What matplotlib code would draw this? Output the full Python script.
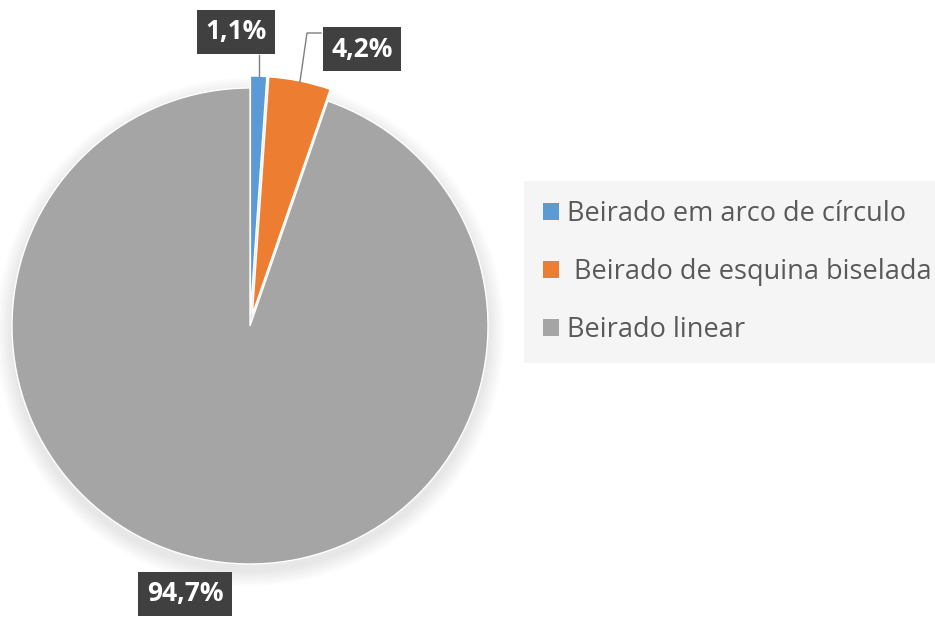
import numpy as np
import matplotlib
matplotlib.use('Agg')
import matplotlib.pyplot as plt
from matplotlib.patches import Patch, Circle

plt.rcParams['font.family'] = ['Open Sans', 'DejaVu Sans']

categories = ['Beirado em arco de círculo', ' Beirado de esquina biselada', 'Beirado linear']
values = [1.1, 4.2, 94.7]
value_labels = ['1,1%', '4,2%', '94,7%']
colors = ['#5B9BD5', '#ED7D31', '#A5A5A5']

W, H = 935, 618
fig = plt.figure(figsize=(W / 100, H / 100), dpi=100)
ax = fig.add_axes([0, 0, 1, 1])
ax.axis('off')

cx, cy, r = 250, H - 326, 238

# soft shadow under the pie
for k in range(8):
    ax.add_patch(Circle((cx, cy - 6), r + 2 + k * 2, fc='black', ec='none',
                        alpha=0.012, zorder=0))

wedges, _ = ax.pie(values, colors=colors, startangle=90, counterclock=False,
                   explode=[12, 12, 0], center=(cx, cy), radius=r,
                   wedgeprops=dict(edgecolor='white', linewidth=1))
ax.set_xlim(0, W)
ax.set_ylim(0, H)
ax.set_aspect('equal')

box = dict(boxstyle='square,pad=0.32', fc='#404040', ec='none')
label_pos = [(236, 32), (362, 49), (185, 594)]
for i, w in enumerate(wedges):
    ang = np.deg2rad((w.theta1 + w.theta2) / 2)
    ox, oy = w.center
    tx, ty = label_pos[i]
    ax.text(tx, H - ty, value_labels[i], color='white', fontsize=19, fontweight='bold',
            ha='center', va='center', bbox=box, zorder=5)
    if i == 0:
        ex, ey = ox + r * np.cos(ang), oy + r * np.sin(ang)
        ax.plot([ex, ex], [ey, H - 55], color='#7f7f7f', lw=1, zorder=4)
    elif i == 1:
        ex, ey = ox + r * np.cos(ang), oy + r * np.sin(ang) - 1
        ax.plot([ex, 307, 321], [ey, H - 33, H - 33], color='#7f7f7f', lw=1, zorder=4)

handles = [Patch(facecolor=c, edgecolor='none') for c in colors]
leg = fig.legend(handles, categories, loc='center left', bbox_to_anchor=(524 / W, 1 - 272 / H),
                 frameon=True, facecolor='#f3f3f3', edgecolor='none', fancybox=False,
                 fontsize=19.5, labelcolor='#595959', handlelength=0.6, handleheight=0.6,
                 handletextpad=0.3, labelspacing=1.1, borderpad=0.7, borderaxespad=0)

fig.savefig('out.png', dpi=100)
